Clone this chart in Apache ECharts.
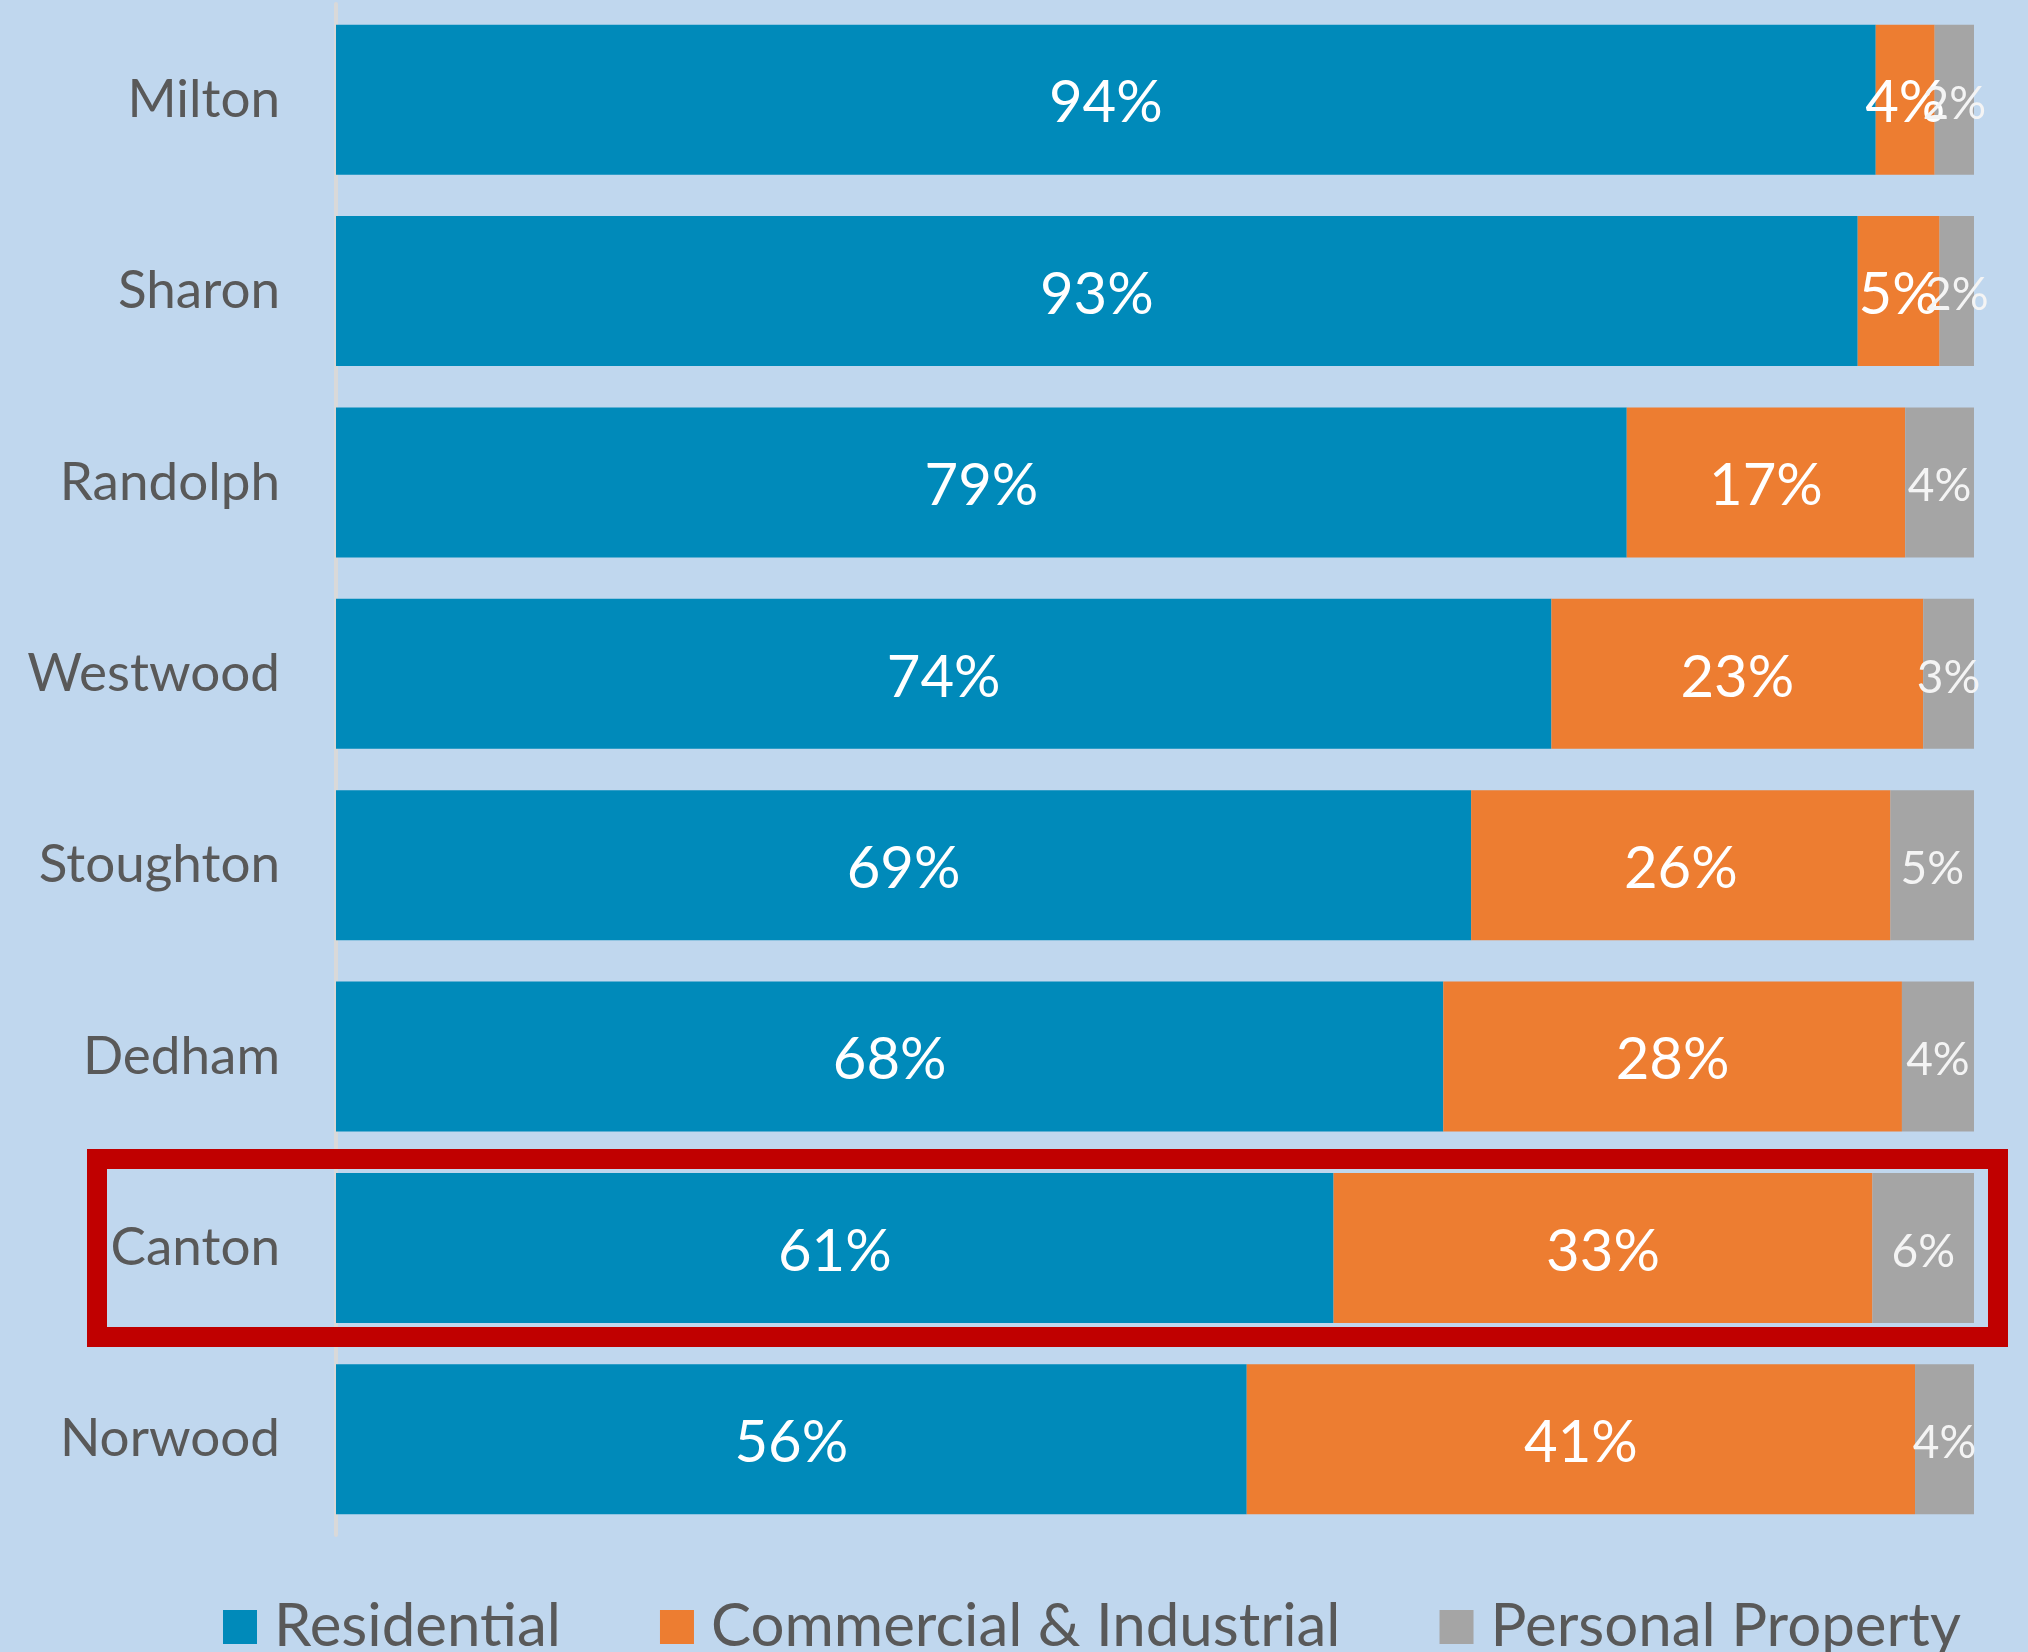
<!DOCTYPE html>
<html>
<head>
<meta charset="utf-8">
<style>
html,body{margin:0;padding:0;background:#C0D7EE;}
#chart{width:2028px;height:1652px;}
</style>
<script src="https://cdn.jsdelivr.net/npm/echarts@6/dist/echarts.min.js"></script>
</head>
<body>
<div id="chart"></div>
<script>
const towns = ['Milton', 'Sharon', 'Randolph', 'Westwood', 'Stoughton', 'Dedham', 'Canton', 'Norwood'];
const residential = [94.0, 92.9, 78.8, 74.2, 69.3, 67.6, 60.9, 55.6];
const commercial = [3.6, 5.0, 17.0, 22.7, 25.6, 28.0, 32.9, 40.8];
const personal = [2.4, 2.1, 4.2, 3.1, 5.1, 4.4, 6.2, 3.6];
const seriesNames = ['Residential', 'Commercial & Industrial', 'Personal Property'];
const highlightTown = 'Canton';

const FONT = 'Lato';
const chart = echarts.init(document.getElementById('chart'));

function mkSeries(name, data, color, fs, lc) {
  return {
    name: name,
    type: 'bar',
    stack: 'total',
    data: data,
    barWidth: 150,
    itemStyle: { color: color },
    label: {
      show: true,
      position: 'inside',
      offset: [0, 4],
      color: lc,
      fontFamily: FONT,
      fontSize: fs,
      formatter: p => Math.round(p.value) + '%'
    },
    emphasis: { disabled: true }
  };
}

chart.setOption({
  backgroundColor: '#C0D7EE',
  animation: false,
  grid: { left: 336, right: 54, top: 4, bottom: 117, containLabel: false },
  xAxis: {
    type: 'value', min: 0, max: 100,
    show: false
  },
  yAxis: {
    type: 'category',
    data: towns,
    inverse: true,
    offset: 2,
    axisLine: { show: true, lineStyle: { color: '#D9D9D9', width: 4 } },
    axisTick: { show: false },
    axisLabel: { margin: 54, color: '#595959', fontFamily: FONT, fontSize: 53 }
  },
  legend: {
    left: 223, top: 1597, padding: 0,
    itemWidth: 34, itemHeight: 34, itemGap: 99,
    icon: 'rect',
    data: seriesNames,
    textStyle: { color: '#595959', fontFamily: FONT, fontSize: 60, padding: [0, 0, 0, 12] }
  },
  series: [
    mkSeries(seriesNames[0], residential, '#008ABA', 58, '#FFFFFF'),
    mkSeries(seriesNames[1], commercial, '#ED7D31', 58, '#FFFFFF'),
    mkSeries(seriesNames[2], personal, '#A5A5A5', 46, '#F4F4F4')
  ]
});

// red highlight box around the highlighted town
const cy = chart.convertToPixel({ yAxisIndex: 0 }, highlightTown);
const x0 = chart.convertToPixel({ xAxisIndex: 0 }, 0);
const x1 = chart.convertToPixel({ xAxisIndex: 0 }, 100);
const sw = 20;
const outerLeft = x0 - 249, outerRight = x1 + 34;
const outerTop = cy - 99, outerBottom = cy + 99;
chart.setOption({
  graphic: [{
    type: 'rect',
    z: 100,
    shape: {
      x: outerLeft + sw / 2,
      y: outerTop + sw / 2,
      width: outerRight - outerLeft - sw,
      height: outerBottom - outerTop - sw
    },
    style: { fill: null, stroke: '#C00000', lineWidth: sw }
  }]
});
</script>
</body>
</html>
